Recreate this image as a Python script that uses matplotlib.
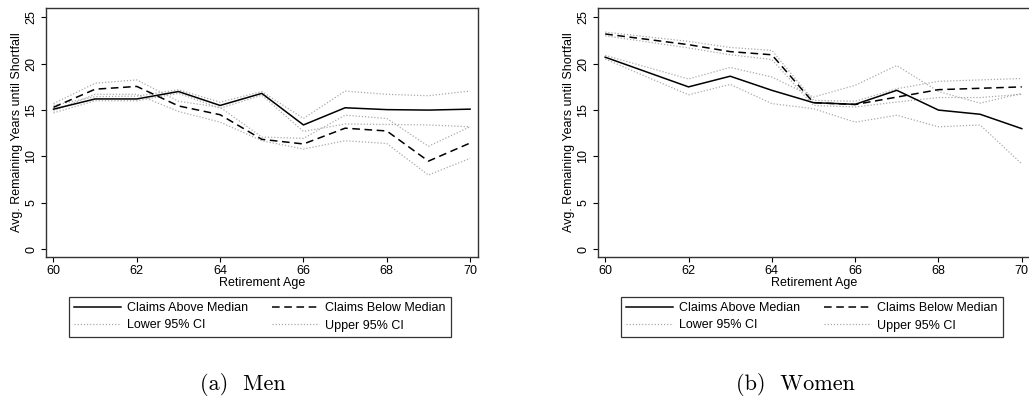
import matplotlib
matplotlib.use("Agg")
import matplotlib.pyplot as plt
from matplotlib.lines import Line2D

# ---------------- data ----------------
ages_men = [60, 61, 62, 63, 64, 65, 66, 67, 68, 69, 70]
men_above = [15.1, 16.2, 16.2, 17.0, 15.5, 16.8, 13.4, 15.25, 15.05, 15.0, 15.1]
men_above_lo = [14.7, 16.0, 16.0, 16.8, 15.2, 16.6, 12.7, 13.5, 13.45, 13.4, 13.2]
men_above_hi = [15.5, 16.45, 16.5, 17.2, 15.85, 17.0, 14.1, 17.05, 16.7, 16.55, 17.05]
men_below = [15.3, 17.25, 17.55, 15.45, 14.5, 11.85, 11.35, 13.05, 12.75, 9.5, 11.45]
men_below_lo = [14.9, 16.7, 16.7, 14.85, 13.7, 11.7, 10.8, 11.7, 11.4, 8.0, 9.8]
men_below_hi = [15.7, 17.9, 18.25, 15.95, 15.3, 12.1, 11.95, 14.45, 14.1, 11.1, 13.2]

ages_women = [60, 62, 63, 64, 65, 66, 67, 68, 69, 70]
women_above = [20.7, 17.5, 18.65, 17.13, 15.8, 15.62, 17.13, 15.0, 14.55, 13.0]
women_above_lo = [20.5, 16.65, 17.77, 15.7, 15.15, 13.7, 14.44, 13.2, 13.4, 9.2]
women_above_hi = [20.9, 18.35, 19.6, 18.56, 16.4, 17.67, 19.8, 17.0, 15.75, 16.8]
women_below = [23.2, 22.05, 21.3, 20.96, 15.8, 15.6, 16.4, 17.2, 17.35, 17.5]
women_below_lo = [23.0, 21.7, 20.96, 20.45, 15.5, 15.33, 15.87, 16.35, 16.35, 16.7]
women_below_hi = [23.4, 22.4, 21.75, 21.43, 16.05, 15.95, 17.3, 18.1, 18.25, 18.4]

x_ticks = [60, 62, 64, 66, 68, 70]
y_ticks = [0, 5, 10, 15, 20, 25]
labels = ["Claims Above Median", "Claims Below Median", "Lower 95% CI", "Upper 95% CI"]
ylabel = "Avg. Remaining Years until Shortfall"
xlabel = "Retirement Age"
captions = ["(a)  Men", "(b)  Women"]

# ---------------- style ----------------
plt.rcParams['font.family'] = ['Liberation Sans', 'DejaVu Sans']
FS = 9
W, H = 1029, 400
fig = plt.figure(figsize=(W / 100, H / 100), dpi=100)

dot_color = "#ababab"
solid_kw = dict(color="black", lw=1.1, linestyle="-")
dash_kw = dict(color="black", lw=1.1, linestyle=(0, (5, 3)))
dot_kw = dict(color=dot_color, lw=0.9, linestyle=(0, (1, 1.5)))

panels = [
    dict(left=46, ages=ages_men, a=men_above, alo=men_above_lo, ahi=men_above_hi,
         b=men_below, blo=men_below_lo, bhi=men_below_hi,
         leg=(69, 297), cap_x=243),
    dict(left=597.7, ages=ages_women, a=women_above, alo=women_above_lo, ahi=women_above_hi,
         b=women_below, blo=women_below_lo, bhi=women_below_hi,
         leg=(621, 297), cap_x=795),
]

for i, p in enumerate(panels):
    ax = fig.add_axes([p['left'] / W, 1 - 257 / H, 432 / W, 249 / H])
    ages = p['ages']
    ax.plot(ages, p['alo'], **dot_kw)
    ax.plot(ages, p['ahi'], **dot_kw)
    ax.plot(ages, p['blo'], **dot_kw)
    ax.plot(ages, p['bhi'], **dot_kw)
    ax.plot(ages, p['a'], **solid_kw)
    ax.plot(ages, p['b'], **dash_kw)

    ax.set_xlim(59.82, 70.19)
    ax.set_ylim(-0.83, 26.0)
    ax.set_xticks(x_ticks)
    ax.set_yticks(y_ticks)
    ax.tick_params(axis='both', direction='out', length=3.6, width=0.8,
                   labelsize=FS, colors='black', pad=2.5)
    for lab in ax.get_yticklabels():
        lab.set_rotation(90)
        lab.set_va('center')
    for s in ax.spines.values():
        s.set_linewidth(1.0)
        s.set_color('#333333')
    ax.set_ylabel(ylabel, fontsize=FS, labelpad=1.5)
    ax.set_xlabel(xlabel, fontsize=FS, labelpad=0)

    handles = [Line2D([], [], **solid_kw), Line2D([], [], **dot_kw),
               Line2D([], [], **dash_kw), Line2D([], [], **dot_kw)]
    hl = [labels[0], labels[2], labels[1], labels[3]]
    x0, y0 = p['leg']
    leg = fig.legend(handles, hl, ncol=2, fontsize=FS,
                     bbox_to_anchor=(x0 / W, 1 - y0 / H),
                     loc='upper left', frameon=True, fancybox=False,
                     handlelength=3.7, handletextpad=0.55, borderpad=0.42,
                     labelspacing=0.42, columnspacing=1.9, borderaxespad=0)
    leg.get_frame().set_edgecolor('black')
    leg.get_frame().set_linewidth(0.9)

    fig.text(p['cap_x'] / W, 1 - 385 / H, captions[i], ha='center', va='center',
             fontsize=16, family=['cmr10', 'DejaVu Serif'])

fig.savefig("out.png", dpi=100)
